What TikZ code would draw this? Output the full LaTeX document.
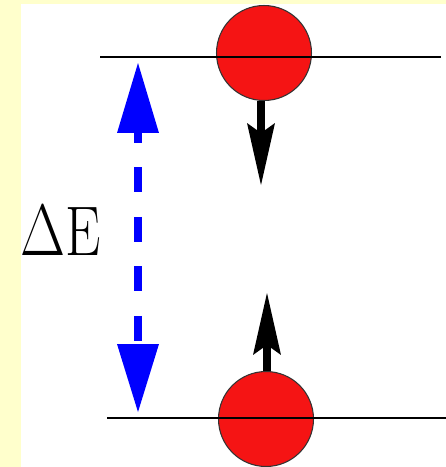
\documentclass[tikz,border=0pt]{standalone}
\usepackage{tikz}
\usetikzlibrary{arrows.meta, positioning}
\definecolor{paper}{RGB}{255,255,204}
\definecolor{ball}{RGB}{245,20,20}
\definecolor{gapblue}{RGB}{0,0,255}

\begin{document}
\begin{tikzpicture}[
    x=0.02cm, y=-0.02cm,
    electron/.style={circle,draw=black!80,fill=ball,line width=0.6pt,
      minimum size=1.9cm,inner sep=0pt},
    level/.style={line width=0.85pt,black},
    spin/.style={line width=0.16cm,
      -{Stealth[length=1.24cm,width=0.56cm,inset=0.2cm,line width=0pt]}},
    gap/.style={gapblue,line width=0.16cm,
      dash pattern=on 0.5cm off 0.49cm,dash phase=0.3cm,
      {Triangle[length=1.4cm,width=0.84cm,line width=0pt]}-%
      {Triangle[length=1.36cm,width=0.84cm,line width=0pt]}}
  ]

  % background
  \useasboundingbox (0,0) rectangle (446,467);
  \fill[paper] (0,0) rectangle (446,467);
  \fill[white] (21,4) rectangle (446,467);

  % electrons
  \node[electron] (upper) at (264,53) {};
  \node[electron] (lower) at (266,419) {};

  % levels
  \coordinate (upL) at (100,57);
  \coordinate (upR) at (441,57);
  \coordinate (loL) at (107,418);
  \coordinate (loR) at (446,418);
  \draw[level] (upL) -- (upR);
  \draw[level] (loL) -- (loR);

  % spins
  \coordinate (downtip) at (261,185);
  \coordinate (uptip) at (267,293);
  \draw[spin] (upper.south -| downtip) -- (downtip);
  \draw[spin] (lower.north -| uptip) -- (uptip);

  % energy gap
  \coordinate (gaptop) at (138,63);
  \coordinate (gapbot) at (138,412);
  \draw[gap] (gaptop) -- (gapbot);
  \node (dE) at (60.5,231) {\scalebox{1.6}[2.0]{\fontsize{20}{24}\selectfont$\Delta$E}};
\end{tikzpicture}
\end{document}
